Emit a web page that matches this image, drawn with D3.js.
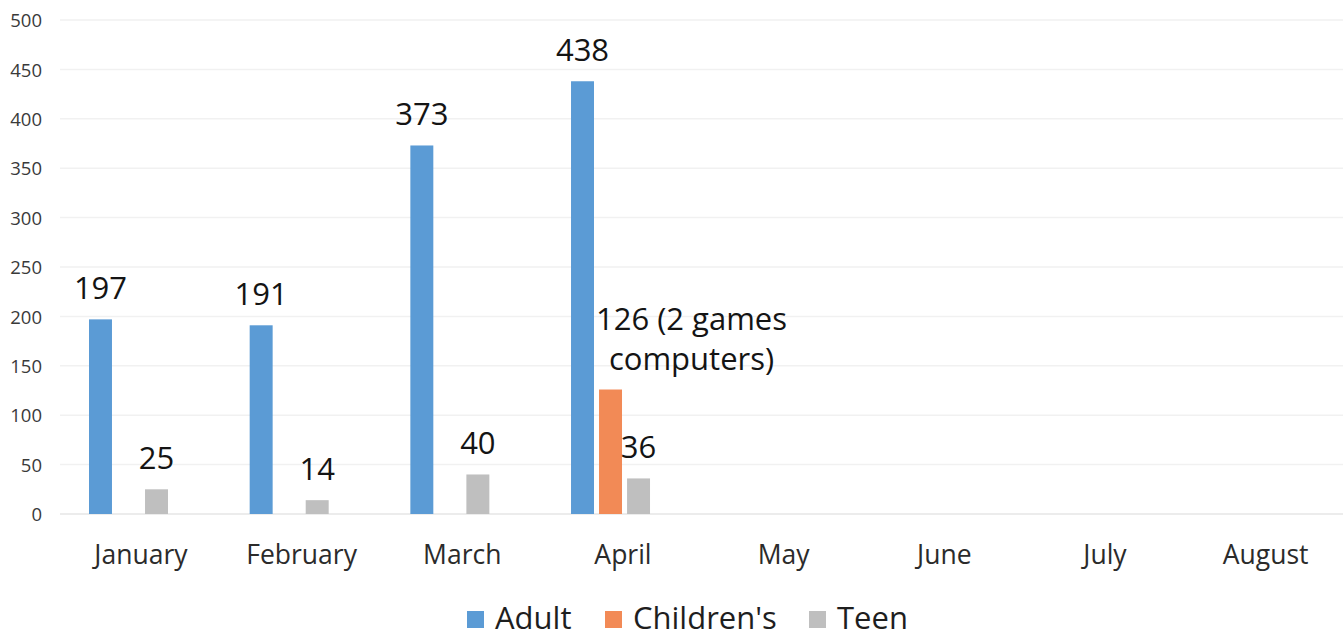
<!DOCTYPE html>
<html>
<head>
<meta charset="utf-8">
<script src="https://cdn.jsdelivr.net/npm/d3@7"></script>
<style>
  html, body { margin: 0; padding: 0; background: #ffffff; }
  svg { display: block; font-family: "Open Sans", "Noto Sans", sans-serif; }
</style>
</head>
<body>
<svg id="chart" width="1343" height="639"></svg>
<script>
// Monthly counts by collection
const months = ["January", "February", "March", "April", "May", "June", "July", "August"];
const series = ["Adult", "Children's", "Teen"];
const adult = [197, 191, 373, 438, null, null, null, null];
const childrens = [null, null, null, 126, null, null, null, null];
const teen = [25, 14, 40, 36, null, null, null, null];
const childrensNote = [null, null, null, ["(2 games", "computers)"], null, null, null, null];
const yTicks = [0, 50, 100, 150, 200, 250, 300, 350, 400, 450, 500];
const colors = ["#5b9bd5", "#f28a56", "#bfbfbf"];

const values = { "Adult": adult, "Children's": childrens, "Teen": teen };

const W = 1343, H = 639;
const svg = d3.select("#chart");

const y = d3.scaleLinear().domain([0, 500]).range([514, 20]);
const x0 = d3.scaleBand().domain(months).range([60.6, 1346]);
const x1 = d3.scaleBand().domain(series).range([0, 79]).paddingInner(0.18);
const groupOffset = 28.4;
const color = d3.scaleOrdinal().domain(series).range(colors);

// horizontal gridlines
const grid = svg.append("g").attr("class", "grid");
grid.selectAll("line").data(yTicks).join("line")
  .attr("x1", 60).attr("x2", W)
  .attr("y1", d => y(d)).attr("y2", d => y(d))
  .attr("stroke", d => d === 0 ? "#e6e6e6" : "#f1f1f1")
  .attr("stroke-width", 1.5);

// y axis labels
const yAxis = d3.axisLeft(y).tickValues(yTicks).tickSize(0).tickPadding(0);
const yg = svg.append("g").attr("transform", "translate(42,0)").call(yAxis);
yg.select(".domain").remove();
yg.selectAll("text")
  .attr("font-family", "'Open Sans', sans-serif")
  .attr("font-size", 18.5).attr("fill", "#3a3a3a")
  .attr("dy", "0.36em");

// x axis labels
const xAxis = d3.axisBottom(x0).tickSize(0).tickPadding(0);
const xg = svg.append("g").attr("transform", "translate(0,514)").call(xAxis);
xg.select(".domain").remove();
xg.selectAll("text")
  .attr("font-family", "'Open Sans', sans-serif")
  .attr("font-size", 26.5).attr("fill", "#2b2b2b")
  .attr("y", 50).attr("dy", 0);

// bars
const rows = [];
months.forEach((m, i) => {
  series.forEach(s => {
    const v = values[s][i];
    if (v != null) rows.push({ month: m, series: s, value: v, idx: i });
  });
});

const bars = svg.append("g").attr("class", "bars");
bars.selectAll("rect").data(rows).join("rect")
  .attr("x", d => x0(d.month) + groupOffset + x1(d.series))
  .attr("y", d => y(d.value))
  .attr("width", x1.bandwidth())
  .attr("height", d => y(0) - y(d.value))
  .attr("fill", d => color(d.series));

// value labels
const labels = svg.append("g").attr("class", "labels")
  .attr("font-family", "'Open Sans', sans-serif")
  .attr("font-size", 31).attr("fill", "#141414");

rows.forEach(d => {
  const cx = x0(d.month) + groupOffset + x1(d.series) + x1.bandwidth() / 2;
  const top = y(d.value);
  const note = d.series === "Children's" ? childrensNote[d.idx] : null;
  if (note) {
    const t = labels.append("text").attr("text-anchor", "middle");
    t.append("tspan").attr("x", cx + 81).attr("y", top - 60).text(d.value + " " + note[0]);
    t.append("tspan").attr("x", cx + 81).attr("y", top - 20).text(note[1]);
  } else {
    labels.append("text").attr("text-anchor", "middle")
      .attr("x", cx).attr("y", top - 20).text(d.value);
  }
});

// legend
const legendItems = [
  { name: "Adult", sx: 467 },
  { name: "Children's", sx: 605 },
  { name: "Teen", sx: 809 }
];
const lg = svg.append("g").attr("class", "legend");
legendItems.forEach(it => {
  lg.append("rect").attr("x", it.sx).attr("y", 611).attr("width", 17).attr("height", 17)
    .attr("fill", color(it.name));
  lg.append("text").attr("x", it.sx + 28).attr("y", 629)
    .attr("font-family", "'Open Sans', sans-serif")
    .attr("font-size", 31).attr("fill", "#1e1e1e").text(it.name);
});
</script>
</body>
</html>
